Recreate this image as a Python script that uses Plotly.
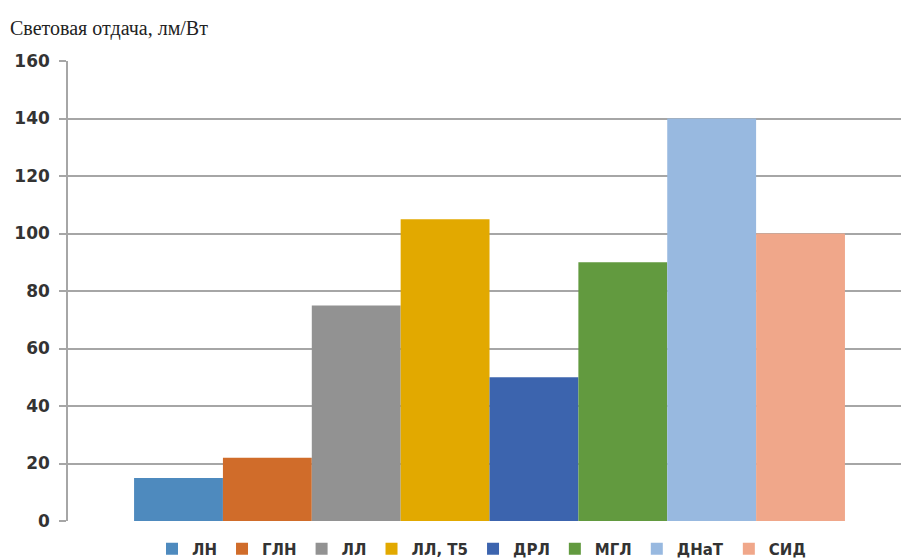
import plotly.graph_objects as go

categories = ["ЛН", "ГЛН", "ЛЛ", "ЛЛ, Т5", "ДРЛ", "МГЛ", "ДНаТ", "СИД"]
values = [15, 22, 75, 105, 50, 90, 140, 100]
colors = ["#4E8ABE", "#D06C2A", "#929292", "#E2A900", "#3C64AE", "#629A3F", "#98B9E0", "#F0A78A"]
y_ticks = [0, 20, 40, 60, 80, 100, 120, 140, 160]
title_text = "Световая отдача, лм/Вт"

H = 560
T = 61
B = 39
PH = H - T - B

fig = go.Figure()
for name, v, c in zip(categories, values, colors):
    fig.add_trace(go.Bar(x=[""], y=[v], name=name, marker=dict(color=c, line=dict(width=0))))

fig.update_layout(
    width=901, height=H,
    margin=dict(l=68, r=0, t=T, b=B, autoexpand=False),
    paper_bgcolor="white", plot_bgcolor="white",
    barmode="group", bargap=0.15, bargroupgap=0,
    showlegend=True,
    legend=dict(orientation="h", x=0.4964, xanchor="center", y=-(549 - (H - B)) / PH, yanchor="middle",
                font=dict(family="DejaVu Sans", size=15, color="#333333", weight="bold"),
                itemwidth=30, tracegroupgap=0, traceorder="normal"),
    font=dict(family="DejaVu Sans", color="#333333"),
)
fig.update_xaxes(range=[-0.504, 0.492], showticklabels=False, showgrid=False,
                 showline=False, zeroline=False, fixedrange=True)
fig.update_yaxes(range=[0, 160], tickvals=y_ticks,
                 ticktext=[str(t) for t in y_ticks],
                 showgrid=True, gridcolor="#A6A6A6", gridwidth=1.5,
                 showline=True, linecolor="#A6A6A6", linewidth=1.5,
                 ticks="outside", ticklen=7, tickcolor="#A6A6A6", tickwidth=1.5,
                 zeroline=False,
                 tickfont=dict(family="DejaVu Sans", size=17, color="#333333", weight="bold"),
                 ticklabelstandoff=6)
fig.add_annotation(text=title_text, xref="paper", yref="paper", x=-60 / 833, y=1 + 33 / PH,
                   xanchor="left", yanchor="middle", showarrow=False,
                   font=dict(family="Liberation Serif", size=20, color="#222222"))
fig.write_html("out.html")
